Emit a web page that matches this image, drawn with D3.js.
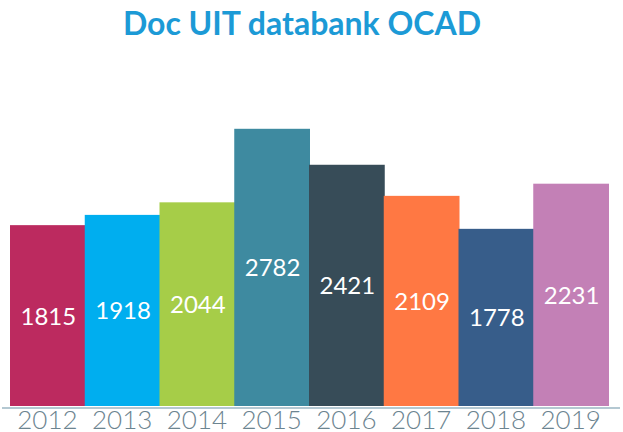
<!DOCTYPE html>
<html lang="en">
<head>
  <meta charset="UTF-8">
  <title>Doc UIT databank OCAD</title>
  <script src="https://d3js.org/d3.v7.min.js"></script>
  <style>
    body
    {
      margin: 0;
      padding: 0;
      background-color: #fff;
      font-family: Lato, "Open Sans", Arial, sans-serif;
    }

    svg
    {
      display: block;
    }
  </style>
</head>
<body>
  <svg width="623" height="432"></svg>
  <script>
    const width = 623;
    const height = 432;

    // data
    const years = ["2012", "2013", "2014", "2015", "2016", "2017", "2018", "2019"];
    const counts = [1815, 1918, 2044, 2782, 2421, 2109, 1778, 2231];
    const barColors = ["#BC2A5F", "#00AEEF", "#A6CD48", "#3E8AA0", "#374C58", "#FF7843", "#375D8A", "#C380B6"];

    const data = years.map((year, i) => ({ year, value: counts[i], color: barColors[i] }));

    const svg = d3.select("svg")
      .attr("viewBox", [0, 0, width, height]);

    const x = d3.scaleBand()
      .domain(years)
      .range([10, 608])
      .padding(0);

    const y = d3.scaleLinear()
      .domain([0, 2800])
      .range([406, 127]);

    // title
    svg.append("text")
      .attr("x", 302)
      .attr("y", 35)
      .attr("text-anchor", "middle")
      .attr("font-size", 32)
      .attr("font-weight", "bold")
      .attr("fill", "#1C9AD6")
      .text("Doc UIT databank OCAD");

    // bars
    svg.append("g")
      .selectAll("rect")
      .data(data)
      .enter()
      .append("rect")
      .attr("x", d => x(d.year))
      .attr("y", d => y(d.value))
      .attr("width", x.bandwidth() + 1)
      .attr("height", d => y(0) - y(d.value))
      .attr("fill", d => d.color);

    // value labels
    svg.append("g")
      .selectAll("text")
      .data(data)
      .enter()
      .append("text")
      .attr("x", d => x(d.year) + x.bandwidth() / 2 + 1)
      .attr("y", d => (y(d.value) + y(0)) / 2 + 9)
      .attr("text-anchor", "middle")
      .attr("font-size", 24)
      .attr("fill", "#fff")
      .text(d => d.value);

    // axis
    const xAxis = svg.append("g")
      .attr("transform", "translate(0,408)")
      .call(d3.axisBottom(x).tickSize(0).tickPadding(0));

    xAxis.select(".domain").remove();

    svg.append("line")
      .attr("x1", 2)
      .attr("x2", 620)
      .attr("y1", 408)
      .attr("y2", 408)
      .attr("stroke", "#B4C8D2")
      .attr("stroke-width", 2);

    xAxis.selectAll(".tick text")
      .attr("dy", null)
      .attr("y", 21)
      .attr("font-family", "Lato, 'Open Sans', Arial, sans-serif")
      .attr("font-size", 26)
      .attr("font-weight", 300)
      .attr("fill", "#6C8490");
  </script>
</body>
</html>
